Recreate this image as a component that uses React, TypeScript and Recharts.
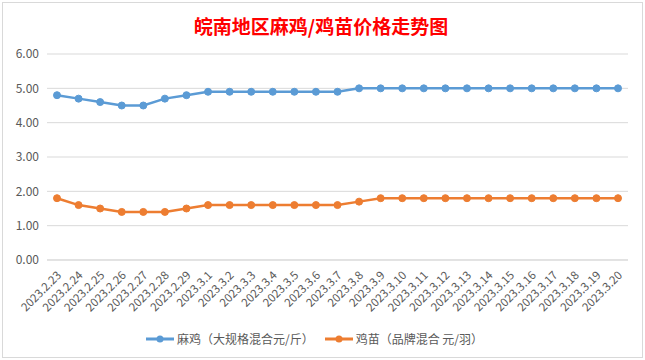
import { LineChart, Line, XAxis, YAxis, CartesianGrid, Legend } from "recharts";

const dates = [
  "2023.2.23", "2023.2.24", "2023.2.25", "2023.2.26", "2023.2.27", "2023.2.28", "2023.2.29",
  "2023.3.1", "2023.3.2", "2023.3.3", "2023.3.4", "2023.3.5", "2023.3.6", "2023.3.7",
  "2023.3.8", "2023.3.9", "2023.3.10", "2023.3.11", "2023.3.12", "2023.3.13", "2023.3.14",
  "2023.3.15", "2023.3.16", "2023.3.17", "2023.3.18", "2023.3.19", "2023.3.20",
];
const maJi = [
  4.8, 4.7, 4.6, 4.5, 4.5, 4.7, 4.8,
  4.9, 4.9, 4.9, 4.9, 4.9, 4.9, 4.9,
  5.0, 5.0, 5.0, 5.0, 5.0, 5.0, 5.0,
  5.0, 5.0, 5.0, 5.0, 5.0, 5.0,
];
const jiMiao = [
  1.8, 1.6, 1.5, 1.4, 1.4, 1.4, 1.5,
  1.6, 1.6, 1.6, 1.6, 1.6, 1.6, 1.6,
  1.7, 1.8, 1.8, 1.8, 1.8, 1.8, 1.8,
  1.8, 1.8, 1.8, 1.8, 1.8, 1.8,
];
const yTicks = [0, 1, 2, 3, 4, 5, 6];

const BLUE = "#5b9bd5";
const ORANGE = "#ed7d31";
const TEXT = "#595959";
const FONT = "'Microsoft YaHei', 'Noto Sans CJK SC', sans-serif";

const data = dates.map((d, i) => ({ date: d, maJi: maJi[i], jiMiao: jiMiao[i] }));

function DateTick({ x, y, payload }: any) {
  return (
    <text
      x={x + 5}
      y={y + 8}
      textAnchor="end"
      fill={TEXT}
      fontSize={11.5}
      fontFamily={FONT}
      transform={`rotate(-45, ${x + 5}, ${y + 8})`}
    >
      {payload.value}
    </text>
  );
}

function LegendBox() {
  const items = [
    { color: BLUE, label: "麻鸡（大规格混合元/斤）" },
    { color: ORANGE, label: "鸡苗（品牌混合 元/羽）" },
  ];
  return (
    <div style={{ display: "flex", justifyContent: "center", gap: 10, fontFamily: FONT, fontSize: 12, color: TEXT }}>
      {items.map((it) => (
        <div key={it.label} style={{ display: "flex", alignItems: "center" }}>
          <svg width={30} height={10} style={{ marginRight: 2 }}>
            <line x1={1} y1={5} x2={29} y2={5} stroke={it.color} strokeWidth={3} />
            <circle cx={15} cy={5} r={3.5} fill={it.color} />
          </svg>
          <span>{it.label}</span>
        </div>
      ))}
    </div>
  );
}

export default function App() {
  return (
    <div style={{ position: "absolute", left: 0, top: 0, width: 645, height: 360, background: "#fff" }}>
      <div
        style={{
          position: "absolute",
          left: 2,
          top: 2,
          width: 639,
          height: 354,
          border: "1px solid #d9d9d9",
        }}
      />
      <div
        style={{
          position: "absolute",
          left: 0,
          top: 12,
          width: 642,
          textAlign: "center",
          color: "#ff0000",
          fontWeight: "bold",
          fontSize: 19,
          fontFamily: "'SimSun', 'Noto Sans CJK SC', serif",
        }}
      >
        皖南地区麻鸡/鸡苗价格走势图
      </div>
      <div style={{ position: "absolute", left: 0, top: 0 }}>
        <LineChart width={645} height={360} data={data} margin={{ top: 54, right: 17, bottom: 13, left: 0 }}>
          <CartesianGrid stroke="#d9d9d9" vertical={false} />
          <XAxis
            dataKey="date"
            tick={<DateTick />}
            tickLine={false}
            axisLine={{ stroke: "#d9d9d9" }}
            interval={0}
            padding={{ left: 10, right: 10 }}
            height={70}
          />
          <YAxis
            domain={[0, 6]}
            ticks={yTicks}
            tickFormatter={(v: number) => v.toFixed(2)}
            tick={{ fill: TEXT, fontSize: 12, fontFamily: FONT }}
            tickLine={false}
            axisLine={false}
            width={47}
          />
          <Legend verticalAlign="bottom" content={() => <LegendBox />} />
          <Line
            dataKey="maJi"
            stroke={BLUE}
            strokeWidth={2.5}
            dot={{ r: 3.5, fill: BLUE, stroke: BLUE, strokeWidth: 1 }}
            isAnimationActive={false}
          />
          <Line
            dataKey="jiMiao"
            stroke={ORANGE}
            strokeWidth={2.5}
            dot={{ r: 3.5, fill: ORANGE, stroke: ORANGE, strokeWidth: 1 }}
            isAnimationActive={false}
          />
        </LineChart>
      </div>
    </div>
  );
}
